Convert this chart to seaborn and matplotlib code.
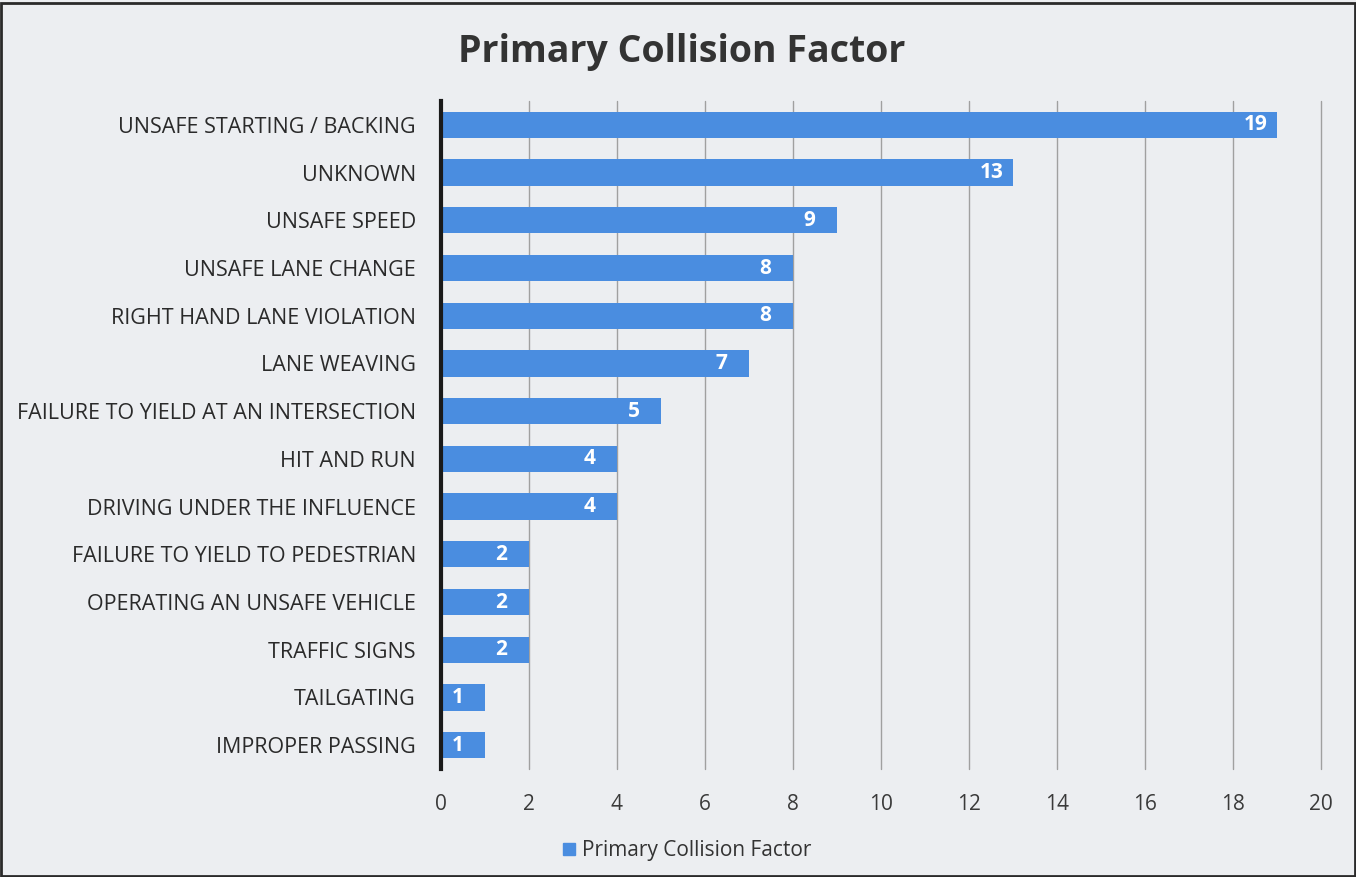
import matplotlib
matplotlib.use("Agg")
import matplotlib.pyplot as plt
import seaborn as sns
import pandas as pd
from matplotlib.patches import Rectangle
from matplotlib.lines import Line2D

categories = [
    "UNSAFE STARTING / BACKING",
    "UNKNOWN",
    "UNSAFE SPEED",
    "UNSAFE LANE CHANGE",
    "RIGHT HAND LANE VIOLATION",
    "LANE WEAVING",
    "FAILURE TO YIELD AT AN INTERSECTION",
    "HIT AND RUN",
    "DRIVING UNDER THE INFLUENCE",
    "FAILURE TO YIELD TO PEDESTRIAN",
    "OPERATING AN UNSAFE VEHICLE",
    "TRAFFIC SIGNS",
    "TAILGATING",
    "IMPROPER PASSING",
]
counts = [19, 13, 9, 8, 8, 7, 5, 4, 4, 2, 2, 2, 1, 1]
x_ticks = [0, 2, 4, 6, 8, 10, 12, 14, 16, 18, 20]
series_name = "Primary Collision Factor"

df = pd.DataFrame({"factor": categories, "count": counts})

sns.set_theme(style="white")
plt.rcParams["font.family"] = ["Open Sans", "DejaVu Sans"]

bg = "#eceef1"
bar_color = "#4a8de0"

fig = plt.figure(figsize=(13.56, 8.77), dpi=100, facecolor=bg)
ax = fig.add_axes([0.3252, 0.1231, 0.6490, 0.7617])
ax.set_facecolor(bg)

sns.barplot(data=df, x="count", y="factor", orient="h", color=bar_color,
            width=0.55, saturation=1, linewidth=0, ax=ax, zorder=3)

ax.set_xlim(0, 20)
ax.set_xticks(x_ticks)
ax.set_xticklabels([str(t) for t in x_ticks], fontsize=15, color="#3a3a3a")
ax.tick_params(axis="y", labelsize=15.5, labelcolor="#2a2a2a", length=0, pad=18)
ax.tick_params(axis="x", length=0, pad=18)
ax.set_xlabel("")
ax.set_ylabel("")

for t in x_ticks[1:]:
    ax.axvline(t, color="#a0a0a0", lw=1.0, zorder=1, clip_on=False)

for s in ["top", "right", "bottom"]:
    ax.spines[s].set_visible(False)
ax.spines["left"].set_color("#1a1a1a")
ax.spines["left"].set_linewidth(3)
ax.spines["left"].set_zorder(5)

for cont in ax.containers:
    ax.bar_label(cont, labels=[str(v) for v in counts], padding=-24,
                 color="white", fontsize=15, fontweight="bold")

fig.text(0.503, 0.941, series_name, ha="center", va="center",
         fontsize=27, fontweight="bold", color="#333333")

handle = Line2D([], [], marker="s", linestyle="none", markersize=9,
                markerfacecolor=bar_color, markeredgecolor=bar_color)
fig.legend([handle], [series_name], loc="center", bbox_to_anchor=(0.505, 0.030),
           frameon=False, fontsize=15, handletextpad=0.1, handlelength=1.0,
           labelcolor="#333333")

fig.patches.append(Rectangle((0.001, 0.001), 0.998, 0.996, transform=fig.transFigure,
                             fill=False, edgecolor="#2a2a2a", lw=2))

fig.savefig("out.png", dpi=100, facecolor=bg)
